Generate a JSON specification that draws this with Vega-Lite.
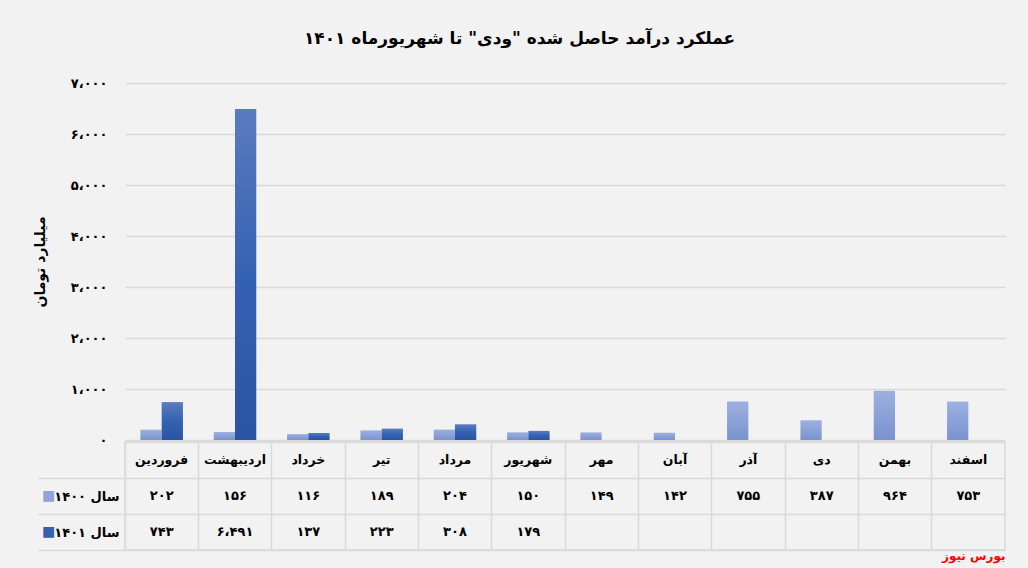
{
  "$schema": "https://vega.github.io/schema/vega-lite/v6.json",
  "background": "#f2f2f2",
  "padding": {"left": 33, "top": 30, "right": 22, "bottom": 10},
  "config": {"font": "DejaVu Sans", "view": {"stroke": null}},
  "title": {
    "text": "عملکرد درآمد حاصل شده \"ودی\" تا شهریورماه ۱۴۰۱",
    "font": "DejaVu Sans",
    "fontSize": 17,
    "fontWeight": "bold",
    "color": "#000000",
    "anchor": "middle",
    "frame": "bounds",
    "offset": 29
  },
  "bounds": "flush",
  "spacing": 2,
  "datasets": {
    "d": [
      {"month": "فروردین", "year": "1400", "value": 202, "label": "۲۰۲"},
      {"month": "اردیبهشت", "year": "1400", "value": 156, "label": "۱۵۶"},
      {"month": "خرداد", "year": "1400", "value": 116, "label": "۱۱۶"},
      {"month": "تیر", "year": "1400", "value": 189, "label": "۱۸۹"},
      {"month": "مرداد", "year": "1400", "value": 204, "label": "۲۰۴"},
      {"month": "شهریور", "year": "1400", "value": 150, "label": "۱۵۰"},
      {"month": "مهر", "year": "1400", "value": 149, "label": "۱۴۹"},
      {"month": "آبان", "year": "1400", "value": 142, "label": "۱۴۲"},
      {"month": "آذر", "year": "1400", "value": 755, "label": "۷۵۵"},
      {"month": "دی", "year": "1400", "value": 387, "label": "۳۸۷"},
      {"month": "بهمن", "year": "1400", "value": 964, "label": "۹۶۴"},
      {"month": "اسفند", "year": "1400", "value": 753, "label": "۷۵۳"},
      {"month": "فروردین", "year": "1401", "value": 743, "label": "۷۴۳"},
      {"month": "اردیبهشت", "year": "1401", "value": 6491, "label": "۶،۴۹۱"},
      {"month": "خرداد", "year": "1401", "value": 137, "label": "۱۳۷"},
      {"month": "تیر", "year": "1401", "value": 223, "label": "۲۲۳"},
      {"month": "مرداد", "year": "1401", "value": 308, "label": "۳۰۸"},
      {"month": "شهریور", "year": "1401", "value": 179, "label": "۱۷۹"}
    ]
  },
  "vconcat": [
    {
      "width": 880,
      "height": 357,
      "data": {"name": "d"},
      "encoding": {
        "x": {
          "field": "month",
          "type": "nominal",
          "sort": ["فروردین", "اردیبهشت", "خرداد", "تیر", "مرداد", "شهریور", "مهر", "آبان", "آذر", "دی", "بهمن", "اسفند"],
          "scale": {"paddingInner": 0.42, "paddingOuter": 0.21},
          "axis": null
        },
        "xOffset": {"field": "year", "type": "nominal", "scale": {"domain": ["1400", "1401"], "paddingInner": 0, "paddingOuter": 0}},
        "y": {
          "field": "value",
          "type": "quantitative",
          "scale": {"domain": [0, 7000], "nice": false},
          "axis": {
            "title": "میلیارد تومان",
            "titleFontSize": 14,
            "titleFontWeight": "bold",
            "titleColor": "#000000",
            "titlePadding": 23,
            "values": [0, 1000, 2000, 3000, 4000, 5000, 6000, 7000],
            "labelExpr": "datum.value == 0 ? '۰' : ['', '۱', '۲', '۳', '۴', '۵', '۶', '۷'][datum.value / 1000] + '،۰۰۰'",
            "labelFontSize": 13,
            "labelFontWeight": "bold",
            "labelColor": "#000000",
            "labelPadding": 18,
            "domain": false,
            "ticks": false,
            "gridColor": "#d9d9d9",
            "gridWidth": 1.5
          }
        }
      },
      "layer": [
        {
          "transform": [{"filter": "datum.year == '1400'"}],
          "mark": {
            "type": "bar",
            "fill": {"gradient": "linear", "x1": 0, "y1": 0, "x2": 0, "y2": 1, "stops": [{"offset": 0, "color": "#9cb0e0"}, {"offset": 1, "color": "#7a93cf"}]}
          }
        },
        {
          "transform": [{"filter": "datum.year == '1401'"}],
          "mark": {
            "type": "bar",
            "fill": {"gradient": "linear", "x1": 0, "y1": 0, "x2": 0, "y2": 1, "stops": [{"offset": 0, "color": "#5b7bbf"}, {"offset": 0.5, "color": "#3462b2"}, {"offset": 1, "color": "#2a54a3"}]}
          }
        }
      ]
    },
    {
      "width": 880,
      "height": 108,
      "view": {"stroke": "#d9d9d9", "strokeWidth": 1.5},
      "data": {"name": "d"},
      "encoding": {
        "x": {
          "field": "month",
          "type": "nominal",
          "sort": ["فروردین", "اردیبهشت", "خرداد", "تیر", "مرداد", "شهریور", "مهر", "آبان", "آذر", "دی", "بهمن", "اسفند"],
          "scale": {"type": "band", "paddingInner": 0, "paddingOuter": 0},
          "axis": {
            "orient": "bottom",
            "grid": true,
            "bandPosition": 0,
            "gridColor": "#d9d9d9",
            "gridWidth": 1.5,
            "labels": false,
            "ticks": false,
            "domain": false,
            "title": "بورس نیوز",
            "titleColor": "#ff0000",
            "titleFontSize": 12,
            "titleFontWeight": "bold",
            "titleAnchor": "end",
            "titlePadding": 0
          }
        }
      },
      "layer": [
        {
          "transform": [{"filter": "datum.year == '1400'"}],
          "mark": {"type": "text", "fontSize": 12.5, "fontWeight": "bold", "color": "#000000"},
          "encoding": {
            "y": {
              "datum": "h",
              "type": "nominal",
              "scale": {"type": "band", "domain": ["h", "1400", "1401"], "paddingInner": 0, "paddingOuter": 0},
              "axis": {
                "title": null,
                "tickBand": "extent",
                "grid": true,
                "gridColor": "#d9d9d9",
                "gridWidth": 1.5,
                "ticks": true,
                "tickSize": 87,
                "tickColor": {"condition": {"test": "datum.extra", "value": "transparent"}, "value": "#d9d9d9"},
                "tickWidth": 1.5,
                "domain": false,
                "labelPadding": -81,
                "labelOffset": 0,
                "labelExpr": "datum.value == '1400' ? 'سال ۱۴۰۰' : (datum.value == '1401' ? 'سال ۱۴۰۱' : '')",
                "labelFontSize": 13,
                "labelFontWeight": "bold",
                "labelColor": "#000000"
              }
            },
            "text": {"field": "month"}
          }
        },
        {
          "mark": {"type": "text", "fontSize": 13, "fontWeight": "bold", "color": "#000000"},
          "encoding": {
            "y": {"field": "year", "type": "nominal"},
            "text": {"field": "label"}
          }
        },
        {
          "data": {"values": [{"year": "1400", "swatch": "■"}, {"year": "1401", "swatch": "■"}]},
          "mark": {"type": "text", "fontSize": 14, "dx": -113},
          "encoding": {
            "x": {"datum": "فروردین", "type": "nominal"},
            "y": {"field": "year", "type": "nominal"},
            "text": {"field": "swatch"},
            "color": {"field": "year", "type": "nominal", "scale": {"domain": ["1400", "1401"], "range": ["#8ea4da", "#3561b0"]}, "legend": null}
          }
        }
      ]
    }
  ]
}
